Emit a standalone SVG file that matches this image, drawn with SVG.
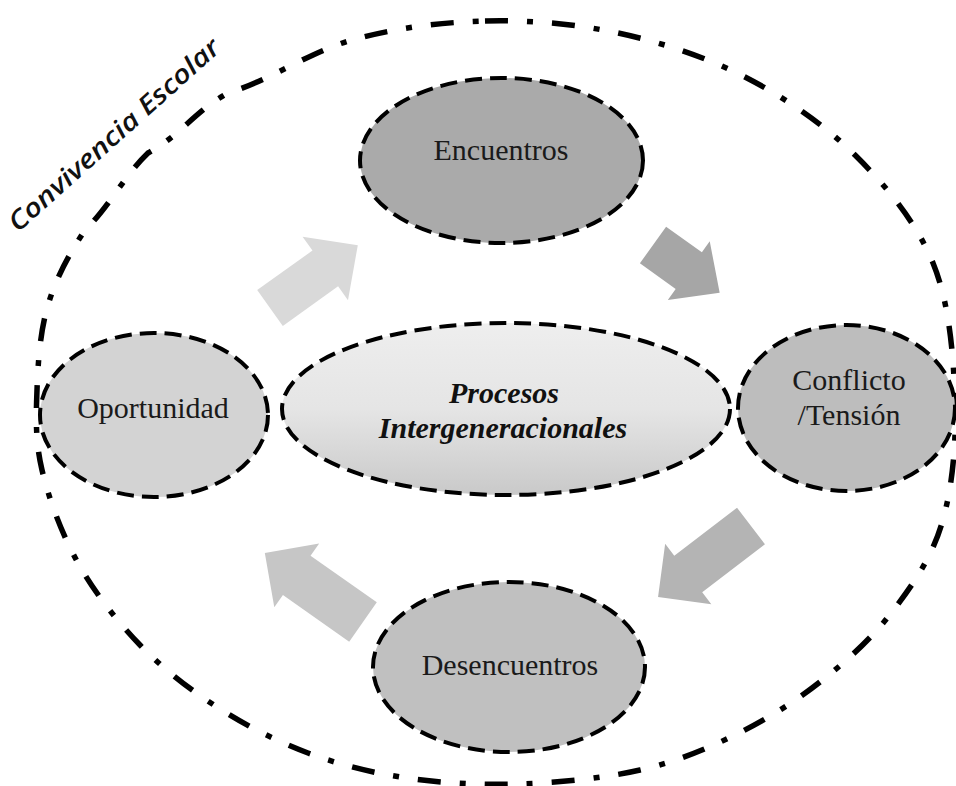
<svg xmlns="http://www.w3.org/2000/svg" width="956" height="786" viewBox="0 0 956 786">
<style>
.node { stroke: #000; stroke-width: 4; stroke-dasharray: 17 8; }
.lbl { font-family: "Liberation Serif", "Times New Roman", serif; font-size: 30px; fill: #1a1a1a; text-anchor: middle; }
.bi { font-weight: bold; font-style: italic; fill: #111; }
.outer { fill: none; stroke: #000; stroke-width: 5.5; stroke-dasharray: 23 19 6 19; }
.title { font-family: "Open Sans", "Liberation Sans", sans-serif; font-style: italic; font-weight: 600; font-size: 26px; fill: #111; }
</style>
<defs>
<linearGradient id="gProc" x1="0" y1="0" x2="0" y2="1">
<stop offset="0" stop-color="#eeeeee"/>
<stop offset="0.5" stop-color="#e5e5e5"/>
<stop offset="1" stop-color="#c9c9c9"/>
</linearGradient>
</defs>
<rect width="956" height="786" fill="#ffffff"/>
<g id="convivencia-escolar">
<path class="outer" d="M485,21 C529.3,19.8 574.7,23.7 618,33 C661.3,42.3 705.5,56.7 745,77 C784.5,97.3 823.7,124 855,155 C886.3,186 916.3,222.2 933,263 C949.7,303.8 953.5,356.7 955,400 C956.5,443.3 952.5,487.7 942,523 C931.5,558.3 912.3,585.5 892,612 C871.7,638.5 846.2,661.5 820,682 C793.8,702.5 765,720.3 735,735 C705,749.7 675.8,761.8 640,770 C604.2,778.2 558.8,782.7 520,784 C481.2,785.3 442.3,783.2 407,778 C371.7,772.8 339.7,764.8 308,753 C276.3,741.2 245,725 217,707 C189,689 163.2,669 140,645 C116.8,621 94.3,592.2 78,563 C61.7,533.8 48.8,498.8 42,470 C35.2,441.2 36,417.5 37,390 C38,362.5 40,331.7 48,305 C56,278.3 68.3,255.3 85,230 C108.8,207.2 124.2,175.8 148,153 C182,134.2 194,111.8 228,93 C270.8,80 309.2,52 352,40 C394.8,28 440.7,22.2 485,21 Z"/>
<text class="title" x="18" y="233" transform="rotate(-41.9 18 233)" textLength="274" lengthAdjust="spacingAndGlyphs">Convivencia Escolar</text>
</g>
<g id="connectors">
<path fill="#d9d9d9" transform="translate(270,308) rotate(-35.6)" d="M0,-22 L68,-22 L68,-39 L108,0 L68,39 L68,22 L0,22 Z"/>
<path fill="#a6a6a6" transform="translate(653,245) rotate(35.6)" d="M0,-22.5 L44,-22.5 L44,-36 L82,0 L44,36 L44,22.5 L0,22.5 Z"/>
<path fill="#b4b4b4" transform="translate(751,526) rotate(142.6)" d="M0,-23 L79,-23 L79,-38 L117,0 L79,38 L79,23 L0,23 Z"/>
<path fill="#c6c6c6" transform="translate(363,622) rotate(-144.9)" d="M0,-24 L81,-24 L81,-39 L120,0 L81,39 L81,24 L0,24 Z"/>
</g>
<g id="encuentros">
<ellipse class="node" cx="501.5" cy="160.5" rx="141.5" ry="82.5" fill="#aaaaaa"/>
<text class="lbl" x="501" y="160">Encuentros</text>
</g>
<g id="oportunidad">
<ellipse class="node" cx="154" cy="415" rx="114" ry="82" fill="#d3d3d3"/>
<text class="lbl" x="153" y="418">Oportunidad</text>
</g>
<g id="procesos">
<ellipse class="node" cx="506" cy="409" rx="224" ry="86" fill="url(#gProc)"/>
<text class="lbl bi" x="504" y="403">Procesos</text>
<text class="lbl bi" x="503" y="438">Intergeneracionales</text>
</g>
<g id="conflicto">
<ellipse class="node" cx="846.5" cy="408" rx="108.5" ry="83" fill="#bdbdbd"/>
<text class="lbl" x="849" y="390">Conflicto</text>
<text class="lbl" x="849" y="425">/Tensión</text>
</g>
<g id="desencuentros">
<ellipse class="node" cx="509" cy="667" rx="136" ry="85" fill="#c0c0c0"/>
<text class="lbl" x="510" y="675">Desencuentros</text>
</g>
</svg>
